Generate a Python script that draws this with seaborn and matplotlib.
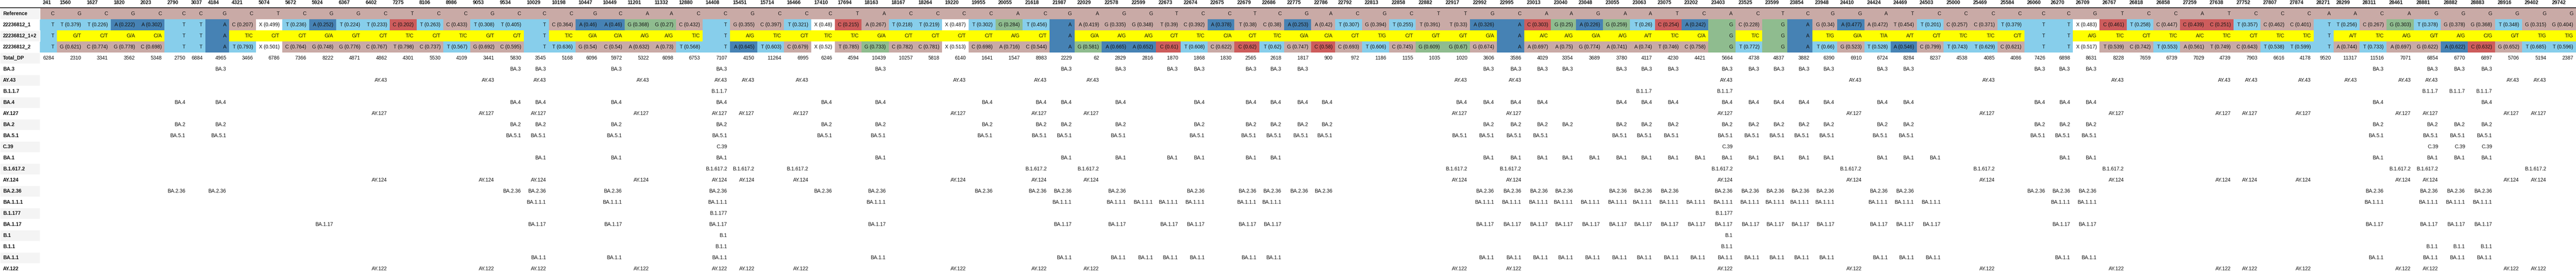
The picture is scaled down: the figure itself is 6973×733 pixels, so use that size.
import numpy as np
import pandas as pd
import matplotlib
matplotlib.use("Agg")
import matplotlib.pyplot as plt
import seaborn as sns
from matplotlib.colors import ListedColormap
from matplotlib.font_manager import FontProperties

positions = [
    241, 1560, 1627, 1820, 2023, 2790, 3037, 4184, 4321, 5074,
    5672, 5924, 6367, 6402, 7275, 8106, 8986, 9053, 9534, 10029,
    10198, 10447, 10449, 11201, 11332, 12880, 14408, 15451, 15714, 16466,
    17410, 17694, 18163, 18167, 18264, 19220, 19955, 20055, 21618, 21987,
    22029, 22578, 22599, 22673, 22674, 22675, 22679, 22686, 22775, 22786,
    22792, 22813, 22858, 22882, 22917, 22992, 22995, 23013, 23040, 23048,
    23055, 23063, 23075, 23202, 23403, 23525, 23599, 23854, 23948, 24410,
    24424, 24469, 24503, 25000, 25469, 25584, 26060, 26270, 26709, 26767,
    26818, 26858, 27259, 27638, 27752, 27807, 27874, 28271, 28299, 28311,
    28461, 28881, 28882, 28883, 28916, 29402, 29742,
]

ref_bases = [
    "C", "G", "C", "G", "C", "C", "C", "G", "C", "T",
    "C", "G", "G", "C", "T", "C", "C", "G", "C", "C",
    "C", "G", "C", "A", "A", "C", "C", "G", "C", "C",
    "C", "T", "A", "C", "C", "C", "C", "A", "C", "G",
    "A", "G", "G", "T", "C", "C", "T", "C", "G", "A",
    "C", "G", "C", "T", "T", "G", "C", "A", "A", "G",
    "A", "A", "T", "C", "A", "C", "T", "C", "G", "G",
    "A", "T", "C", "C", "C", "C", "C", "C", "G", "T",
    "C", "C", "A", "T", "C", "C", "C", "A", "A", "C",
    "A", "G", "G", "G", "G", "G", "G",
]

sample_1 = [
    "T", "T (0.379)", "T (0.226)", "A (0.222)", "A (0.302)", "T", "T", "A", "C (0.207)", "X (0.499)",
    "T (0.236)", "A (0.252)", "T (0.224)", "T (0.233)", "C (0.202)", "T (0.263)", "C (0.433)", "T (0.308)", "T (0.405)", "T",
    "C (0.364)", "A (0.46)", "A (0.46)", "G (0.368)", "G (0.27)", "C (0.432)", "T", "G (0.355)", "C (0.397)", "T (0.321)",
    "X (0.48)", "C (0.215)", "A (0.267)", "T (0.218)", "T (0.219)", "X (0.487)", "T (0.302)", "G (0.284)", "T (0.456)", "A",
    "A (0.419)", "G (0.335)", "G (0.348)", "T (0.39)", "C (0.392)", "A (0.378)", "T (0.38)", "C (0.38)", "A (0.253)", "A (0.42)",
    "T (0.307)", "G (0.394)", "T (0.255)", "T (0.391)", "T (0.33)", "A (0.326)", "A", "C (0.303)", "G (0.25)", "A (0.226)",
    "G (0.259)", "T (0.26)", "C (0.254)", "A (0.242)", "G", "C (0.228)", "G", "A", "G (0.34)", "A (0.477)",
    "A (0.472)", "T (0.454)", "T (0.201)", "C (0.257)", "C (0.371)", "T (0.379)", "T", "T", "X (0.483)", "C (0.461)",
    "T (0.258)", "C (0.447)", "C (0.439)", "C (0.251)", "T (0.357)", "C (0.462)", "C (0.401)", "T", "T (0.256)", "C (0.267)",
    "G (0.303)", "T (0.378)", "G (0.378)", "G (0.368)", "T (0.348)", "G (0.315)", "G (0.404)",
]

sample_mix = [
    "T", "G/T", "C/T", "G/A", "C/A", "T", "T", "A", "T/C", "C/T",
    "C/T", "G/A", "G/T", "C/T", "T/C", "C/T", "T/C", "G/T", "C/T", "T",
    "T/C", "G/A", "C/A", "A/G", "A/G", "T/C", "T", "A/G", "T/C", "C/T",
    "T/C", "T/C", "G/A", "C/T", "C/T", "C/T", "C/T", "A/G", "C/T", "A",
    "G/A", "A/G", "A/G", "C/T", "T/C", "C/A", "C/T", "T/C", "G/A", "C/A",
    "C/T", "T/G", "C/T", "G/T", "G/T", "G/A", "A", "A/C", "A/G", "G/A",
    "A/G", "A/T", "T/C", "C/A", "G", "T/C", "G", "A", "T/G", "G/A",
    "T/A", "A/T", "C/T", "T/C", "T/C", "C/T", "T", "T", "A/G", "T/C",
    "C/T", "T/C", "A/C", "T/C", "C/T", "T/C", "T/C", "T", "A/T", "T/C",
    "A/G", "G/T", "A/G", "C/G", "G/T", "T/G", "T/G",
]

sample_2 = [
    "T", "G (0.621)", "C (0.774)", "G (0.778)", "C (0.698)", "T", "T", "A", "T (0.793)", "X (0.501)",
    "C (0.764)", "G (0.748)", "G (0.776)", "C (0.767)", "T (0.798)", "C (0.737)", "T (0.567)", "G (0.692)", "C (0.595)", "T",
    "T (0.636)", "G (0.54)", "C (0.54)", "A (0.632)", "A (0.73)", "T (0.568)", "T", "A (0.645)", "T (0.603)", "C (0.679)",
    "X (0.52)", "T (0.785)", "G (0.733)", "C (0.782)", "C (0.781)", "X (0.513)", "C (0.698)", "A (0.716)", "C (0.544)", "A",
    "G (0.581)", "A (0.665)", "A (0.652)", "C (0.61)", "T (0.608)", "C (0.622)", "C (0.62)", "T (0.62)", "G (0.747)", "C (0.58)",
    "C (0.693)", "T (0.606)", "C (0.745)", "G (0.609)", "G (0.67)", "G (0.674)", "A", "A (0.697)", "A (0.75)", "G (0.774)",
    "A (0.741)", "A (0.74)", "T (0.746)", "C (0.758)", "G", "T (0.772)", "G", "A", "T (0.66)", "G (0.523)",
    "T (0.528)", "A (0.546)", "C (0.799)", "T (0.743)", "T (0.629)", "C (0.621)", "T", "T", "X (0.517)", "T (0.539)",
    "C (0.742)", "T (0.553)", "A (0.561)", "T (0.749)", "C (0.643)", "T (0.538)", "T (0.599)", "T", "A (0.744)", "T (0.733)",
    "A (0.697)", "G (0.622)", "A (0.622)", "C (0.632)", "G (0.652)", "T (0.685)", "T (0.596)",
]

total_dp = [
    6284, 2310, 3341, 3562, 5348, 2750, 6884, 4965, 3466, 6786,
    7366, 8222, 4871, 4862, 4301, 5530, 4109, 3441, 5830, 3545,
    5168, 6096, 5972, 5322, 6098, 6753, 7107, 4150, 11264, 6995,
    6246, 4594, 10439, 10257, 5818, 6140, 1641, 1547, 8983, 2229,
    62, 2829, 2816, 1870, 1868, 1830, 2565, 2618, 1817, 900,
    972, 1186, 1155, 1035, 1020, 3606, 3586, 4029, 3354, 3689,
    3780, 4117, 4230, 4421, 5664, 4738, 4837, 3882, 6390, 6910,
    6724, 8284, 8237, 4538, 4085, 4086, 7426, 6898, 8631, 8228,
    7659, 6739, 7029, 4739, 7903, 6616, 4178, 9520, 11317, 11516,
    7071, 6854, 6770, 6897, 5706, 5194, 2387,
]

sample_rows = ["Reference", "22236812_1", "22236812_1+2", "22236812_2", "Total_DP"]

lineage_sites = {
    "BA.3": [4184, 9534, 10029, 10449, 14408, 18163, 21987, 22578, 22673, 22674, 22679, 22686,
             22775, 22992, 22995, 23013, 23040, 23055, 23063, 23075, 23403, 23525, 23599, 23854,
             23948, 24424, 24469, 26060, 26270, 26709, 28311, 28881, 28882, 28883],
    "AY.43": [6402, 9053, 10029, 11201, 14408, 15451, 16466, 19220, 21618, 22029, 22917, 22995,
              23403, 24410, 25469, 26767, 27638, 27752, 27874, 28299, 28461, 28881, 28916, 29402],
    "B.1.1.7": [14408, 23063, 23403, 28881, 28882, 28883],
    "BA.4": [2790, 4184, 9534, 10029, 10449, 14408, 17410, 18163, 19955, 21618, 21987, 22578,
             22674, 22679, 22686, 22775, 22786, 22917, 22992, 22995, 23013, 23055, 23063, 23075,
             23403, 23525, 23599, 23854, 23948, 24424, 24469, 26060, 26270, 26709, 28311, 28883],
    "AY.127": [6402, 9053, 10029, 11201, 14408, 15451, 16466, 19220, 21618, 22029, 22917, 22995,
               23403, 24410, 25469, 26767, 27638, 27752, 27874, 28461, 28881, 28916, 29402],
    "BA.2": [2790, 4184, 9534, 10029, 10449, 14408, 17410, 18163, 19955, 21618, 21987, 22578,
             22674, 22679, 22686, 22775, 22786, 22992, 22995, 23013, 23040, 23055, 23063, 23075,
             23403, 23525, 23599, 23854, 23948, 24424, 24469, 26060, 26270, 26709, 28311, 28881,
             28882, 28883],
    "BA.5.1": [2790, 4184, 9534, 10029, 10449, 14408, 17410, 18163, 19955, 21618, 21987, 22578,
               22674, 22679, 22686, 22775, 22786, 22917, 22992, 22995, 23013, 23055, 23063, 23075,
               23403, 23525, 23599, 23854, 23948, 24424, 24469, 26060, 26270, 26709, 28311, 28881,
               28882, 28883],
    "C.39": [14408, 23403, 28881, 28882, 28883],
    "BA.1": [10029, 10449, 14408, 18163, 21987, 22578, 22673, 22674, 22679, 22686, 22992, 22995,
             23013, 23040, 23048, 23055, 23063, 23075, 23202, 23403, 23525, 23599, 23854, 23948,
             24424, 24469, 24503, 26270, 26709, 28311, 28881, 28882, 28883],
    "B.1.617.2": [14408, 15451, 16466, 21618, 22029, 22917, 22995, 23403, 24410, 25469, 26767,
                  28461, 28881, 29402],
    "AY.124": [6402, 9053, 10029, 11201, 14408, 15451, 16466, 19220, 21618, 22029, 22917, 22995,
               23403, 24410, 25469, 26767, 27638, 27752, 27874, 28461, 28881, 28916, 29402],
    "BA.2.36": [2790, 4184, 9534, 10029, 10449, 14408, 17410, 18163, 19955, 21618, 21987, 22578,
                22674, 22679, 22686, 22775, 22786, 22992, 22995, 23013, 23040, 23055, 23063, 23075,
                23403, 23525, 23599, 23854, 23948, 24424, 24469, 26060, 26270, 26709, 28311, 28881,
                28882, 28883],
    "BA.1.1.1": [10029, 10449, 14408, 18163, 21987, 22578, 22599, 22673, 22674, 22679, 22686, 22992,
                 22995, 23013, 23040, 23048, 23055, 23063, 23075, 23202, 23403, 23525, 23599, 23854,
                 23948, 24424, 24469, 24503, 26270, 26709, 28311, 28881, 28882, 28883],
    "B.1.177": [14408, 23403],
    "BA.1.17": [5924, 10029, 10449, 14408, 18163, 21987, 22578, 22673, 22674, 22679, 22686, 22992,
                22995, 23013, 23040, 23048, 23055, 23063, 23075, 23202, 23403, 23525, 23599, 23854,
                23948, 24424, 24469, 24503, 26270, 26709, 28311, 28881, 28882, 28883],
    "B.1": [14408, 23403],
    "B.1.1": [14408, 23403, 28881, 28882, 28883],
    "BA.1.1": [10029, 10449, 14408, 18163, 21987, 22578, 22599, 22673, 22674, 22679, 22686, 22992,
               22995, 23013, 23040, 23048, 23055, 23063, 23075, 23202, 23403, 23525, 23599, 23854,
               23948, 24424, 24469, 24503, 26270, 26709, 28311, 28881, 28882, 28883],
    "AY.122": [6402, 9053, 10029, 11201, 14408, 15451, 16466, 19220, 21618, 22029, 22917, 22995,
               23403, 24410, 25469, 26767, 27638, 27752, 27874, 28461, 28881, 28916, 29402],
}

# cell colours: reference-like, T, A, C, G, mixed, unknown
palette = ["#c9aaa6", "skyblue", "steelblue", "indianred", "darkseagreen", "yellow", "white"]
base_code = {"T": 1, "A": 2, "C": 3, "G": 4}


def call_code(call, ref):
    base = call.split()[0]
    if "/" in base:
        return 5
    if base == "X":
        return 6
    if base == ref:
        return 0
    return base_code[base]


# ---- layout ----
W, H, DPI = 6973, 733, 100
HEADER_PX, ROW_PX, LABEL_PX = 22, 30, 108
FS = 9.8
PAD_PX = 17

sns.set_theme(style="white")
plt.rcParams["font.family"] = ["Liberation Sans", "DejaVu Sans"]

fig = plt.figure(figsize=(W / DPI, H / DPI), dpi=DPI)
renderer = fig.canvas.get_renderer()
fp_reg = FontProperties(family="Liberation Sans", size=FS)
fp_bold = FontProperties(family="Liberation Sans", size=FS, weight="bold")


def text_px(s, fp):
    return renderer.get_text_width_height_descent(s, fp, ismath=False)[0]


n = len(positions)
lineage_names = list(lineage_sites.keys())
col_lineages = [[name for name in lineage_names if p in lineage_sites[name]] for p in positions]

widths = []
for j in range(n):
    texts = [ref_bases[j], sample_1[j], sample_mix[j], sample_2[j], str(total_dp[j])] + col_lineages[j]
    w = max([text_px(t, fp_reg) for t in texts] + [text_px(str(positions[j]), fp_bold)])
    widths.append(w + PAD_PX)
widths = np.array(widths)
widths *= (W - LABEL_PX) / widths.sum()

edge_idx = np.arange(-1, n + 1, dtype=float)
edge_px = np.concatenate([[0, LABEL_PX], LABEL_PX + np.cumsum(widths)])


def fwd(x):
    return np.interp(x, edge_idx, edge_px)


def inv(x):
    return np.interp(x, edge_px, edge_idx)


codes = np.array([
    [0] * n,
    [call_code(c, r) for c, r in zip(sample_1, ref_bases)],
    [call_code(c, r) for c, r in zip(sample_mix, ref_bases)],
    [call_code(c, r) for c, r in zip(sample_2, ref_bases)],
])
codes_df = pd.DataFrame(codes, index=sample_rows[:4], columns=positions)

ax = fig.add_axes([0, 0, 1, 1])
sns.heatmap(codes_df, ax=ax, cmap=ListedColormap(palette), vmin=-0.5, vmax=6.5,
            cbar=False, xticklabels=False, yticklabels=False)
ax.set_xscale("function", functions=(fwd, inv))
y_top = -HEADER_PX / ROW_PX
y_bot = (H - HEADER_PX) / ROW_PX
ax.set_xlim(-1, n)
ax.set_ylim(y_bot, y_top)
ax.axis("off")

row_labels = sample_rows + lineage_names
grey_rows = [i + 0.5 for i in range(0, len(row_labels), 2)]
ax.barh(grey_rows, width=1, left=-1, height=1, color="#f4f4f4", zorder=1)
ax.axhline(-0.03, color="black", lw=1.4, zorder=4)

txt_color = "#111111"
for i, name in enumerate(row_labels):
    ax.annotate(name, (-1, i + 0.5), xytext=(8, 0), textcoords="offset pixels",
                ha="left", va="center", fontsize=FS, fontweight="bold", color=txt_color)

header_y = (7 - HEADER_PX) / ROW_PX
for j, p in enumerate(positions):
    ax.annotate(str(p), (j, header_y), xytext=(7, 0), textcoords="offset pixels",
                ha="left", va="center", fontsize=FS, fontweight="bold", color=txt_color)

    column = [ref_bases[j], sample_1[j], sample_mix[j], sample_2[j], str(total_dp[j])]
    for i, t in enumerate(column):
        ax.annotate(t, (j + 1, i + 0.5), xytext=(-7.5, 0), textcoords="offset pixels",
                    ha="right", va="center", fontsize=FS, color=txt_color, zorder=5)
    for name in col_lineages[j]:
        i = row_labels.index(name)
        ax.annotate(name, (j + 1, i + 0.5), xytext=(-7.5, 0), textcoords="offset pixels",
                    ha="right", va="center", fontsize=FS, color=txt_color, zorder=5)

fig.savefig("out.png", dpi=DPI, facecolor="white")
